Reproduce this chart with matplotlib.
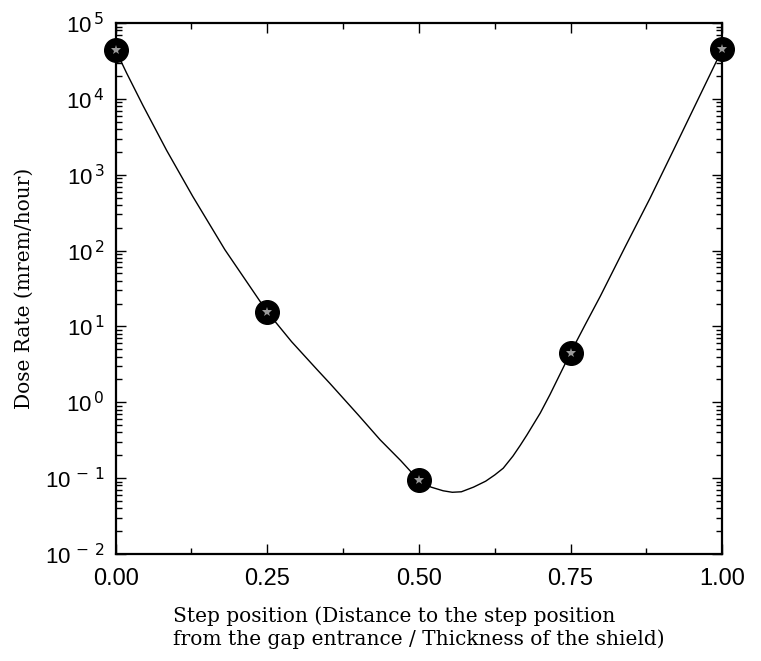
import numpy as np
import matplotlib
matplotlib.use("Agg")
import matplotlib.pyplot as plt
from matplotlib.ticker import FixedLocator, FuncFormatter, NullFormatter, LogLocator

# measured points (step position, dose rate in mrem/hour)
pos = [0.0, 0.25, 0.50, 0.75, 1.0]
dose = [4.4e4, 15.5, 0.093, 4.5, 4.5e4]

# fitted curve
curve_x = [0.0, 0.018, 0.045, 0.084, 0.127, 0.18, 0.25, 0.29, 0.332, 0.353,
           0.40, 0.436, 0.47, 0.50, 0.52, 0.54, 0.555, 0.57, 0.59, 0.61,
           0.625, 0.639, 0.655, 0.667, 0.678, 0.70, 0.716, 0.75, 0.774,
           0.799, 0.84, 0.881, 0.92, 0.952, 1.0]
curve_y = [4.4e4, 2.2e4, 8.2e3, 2.1e3, 5.2e2, 1.03e2, 15.5, 6.3, 2.7, 1.78,
           0.68, 0.32, 0.17, 0.093, 0.076, 0.068, 0.065, 0.066, 0.076, 0.091,
           0.11, 0.135, 0.195, 0.27, 0.37, 0.72, 1.26, 4.5, 10.5,
           25.0, 112.0, 490.0, 2140.0, 7240.0, 4.5e4]

xticks = [0.0, 0.25, 0.5, 0.75, 1.0]

plt.rcParams['mathtext.fontset'] = 'dejavusans'

fig = plt.figure(figsize=(7.61, 6.61), dpi=100)
ax = fig.add_axes([0.152, 0.162, 0.797, 0.803])

ax.plot(curve_x, curve_y, color='black', lw=1.0, zorder=2)
ax.plot(pos, dose, 'o', color='black', ms=17, mec='black', zorder=3, clip_on=False)
ax.plot(pos, dose, '*', color='#9a9a9a', ms=7, mew=0.0, zorder=4, clip_on=False)

ax.set_yscale('log')
ax.set_xlim(0.0, 1.0)
ax.set_ylim(1e-2, 1e5)

ax.xaxis.set_major_locator(FixedLocator(xticks))
ax.xaxis.set_minor_locator(FixedLocator([0.125, 0.375, 0.625, 0.875]))
ax.xaxis.set_major_formatter(FuncFormatter(lambda v, p: "%.2f" % v))

ax.yaxis.set_major_locator(LogLocator(base=10, numticks=20))
ax.yaxis.set_minor_locator(LogLocator(base=10, subs=np.arange(2, 10), numticks=20))
ax.yaxis.set_minor_formatter(NullFormatter())

def fmt_exp(v, p):
    e = int(round(np.log10(v)))
    if e < 0:
        return r"$\mathregular{10}^{\,-\,%d}$" % (-e)
    return r"$\mathregular{10}^{\,%d}$" % e

ax.yaxis.set_major_formatter(FuncFormatter(fmt_exp))

ax.tick_params(which='both', direction='in', top=True, right=True, width=1.0)
ax.tick_params(which='major', length=7)
ax.tick_params(which='minor', length=4)
ax.tick_params(axis='x', which='major', labelsize=17, pad=10)
ax.tick_params(axis='y', which='major', labelsize=16, pad=8)
for lab in ax.get_xticklabels() + ax.get_yticklabels():
    lab.set_family('Liberation Sans')
    lab.set_fontweight('light')

for s in ax.spines.values():
    s.set_linewidth(1.6)

ax.set_ylabel("Dose Rate (mrem/hour)", family='DejaVu Serif', fontsize=14.5, labelpad=8)
ax.set_xlabel("Step position (Distance to the step position\n"
              "from the gap entrance / Thickness of the shield)",
              family='DejaVu Serif', fontsize=14.5, labelpad=12,
              multialignment='left')

fig.savefig("out.png", dpi=100)
